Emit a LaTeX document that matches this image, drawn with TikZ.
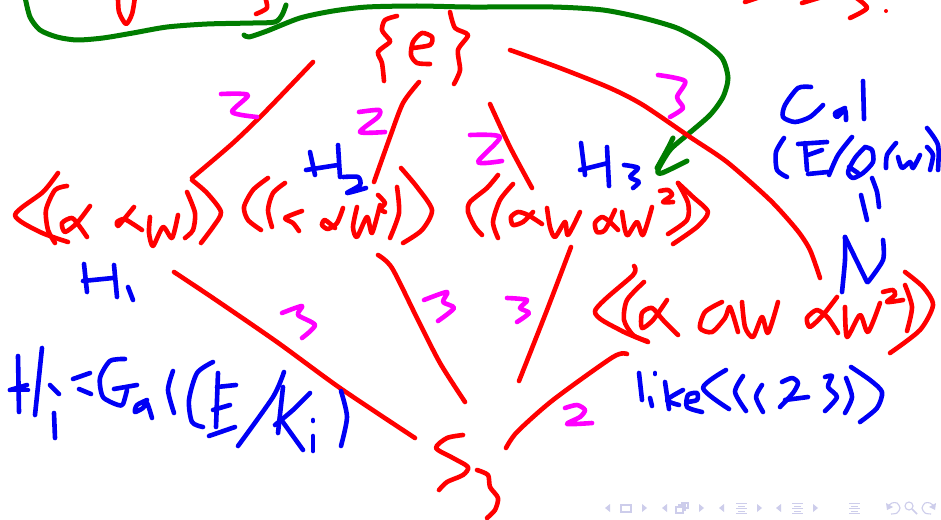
\documentclass[tikz,border=0pt]{standalone}
\definecolor{inkred}{RGB}{255,0,0}
\definecolor{inkblue}{RGB}{0,0,245}
\definecolor{inkgreen}{RGB}{0,125,0}
\definecolor{inkpink}{RGB}{255,0,255}
\definecolor{navcol}{RGB}{205,205,235}
\tikzset{
 ink/.style={line width=4.6pt,line cap=round,line join=round},
 R/.style={ink,draw=inkred},
 B/.style={ink,draw=inkblue},
 G/.style={ink,draw=inkgreen,line width=5pt},
 M/.style={ink,draw=inkpink},
 navf/.style={fill=navcol,draw=none},
 navl/.style={draw=navcol,line width=.9pt}
}
\newcommand{\ink}[2]{\draw[#1] plot[smooth,tension=.45] coordinates {#2};}
\newcommand{\navl}[1]{\fill[navf] (#1,508) -- (#1+5,504) -- (#1+5,512) -- cycle;}
\newcommand{\navr}[1]{\fill[navf] (#1+5,508) -- (#1,504) -- (#1,512) -- cycle;}
\newcommand{\navlines}[1]{\draw[navl] (#1,503)--(#1+11,503) (#1+2,506)--(#1+9,506) (#1,508.5)--(#1+11,508.5) (#1+2,511)--(#1+9,511) (#1,513.5)--(#1+11,513.5);}
\begin{document}
\begin{tikzpicture}[x=1pt,y=-1pt]
\useasboundingbox (0,0) rectangle (941,519);
\clip (0,0) rectangle (941,519);
\fill[white] (0,0) rectangle (941,519);
% top remnants
\ink{R}{(118,-3)(119,12)(126,24)(132,14)(135,-3)}
\ink{R}{(265,-3)(267,8)(256,14)}
\ink{R}{(745,2)(760,-3)}
\ink{R}{(802,3)(822,-3)}
\ink{R}{(855,-3)(867,8)(850,18)}
\fill[inkred] (886,11) circle (2);
% green
\ink{G}{(25,-3)(30,17)(40,30)(57,37)(77,40)(103,38)(133,33)(167,27)(207,24)(253,23)(275,22)(282,15)(286,5)}
\ink{G}{(244,35)(249,37)(267,31)(300,18)(333,11)(367,7)(417,6)(470,7)(553,7)(603,10)(643,18)(677,28)(703,42)(722,58)(728,78)(723,97)(710,115)(687,135)(670,150)(658,170)(662,173)(687,161)}
\ink{G}{(673,138)(667,150)(657,168)}
% {e}
\ink{R}{(397,16)(385,20)(382,30)(388,38)(390,42)(378,52)(382,63)(384,81)}
\ink{R}{(413,48)(430,45)(432,37)(422,33)(413,42)(411,55)(417,63)(430,64)}
\ink{R}{(450,12)(455,28)(468,35)(458,50)(460,70)(454,84)}
% lines
\ink{R}{(313,62)(267,110)(233,143)(192,178)}
\ink{R}{(419,82)(403,103)(390,137)(374,182)}
\ink{R}{(490,104)(510,147)(532,188)}
\ink{R}{(510,50)(560,68)(610,88)(643,105)(690,137)(727,162)(770,200)(797,230)(810,250)(820,278)}
\ink{R}{(174,272)(213,298)(277,342)(340,388)(415,438)}
\ink{R}{(378,255)(392,268)(417,318)(440,363)(465,402)}
\ink{R}{(571,247)(547,310)(519,381)}
\ink{R}{(627,354)(613,357)(553,400)(517,432)(506,448)}
% group 1
\ink{R}{(58,173)(43,192)(15,215)(40,232)(68,242)}
\ink{R}{(67,186)(55,190)(46,210)(48,230)(55,243)}
\ink{R}{(90,206)(77,223)(65,232)(62,223)(72,218)(80,227)(87,237)}
\ink{R}{(134,207)(125,218)(118,226)(117,222)(124,219)(133,224)(142,230)}
\ink{R}{(150,217)(149,233)(153,246)(163,227)(172,238)(178,215)}
\ink{R}{(187,192)(195,213)(193,230)(185,238)}
\ink{R}{(192,180)(207,193)(221,212)(213,227)(201,243)}
% group 2
\ink{R}{(268,178)(253,190)(244,207)(248,220)(261,230)}
\ink{R}{(285,183)(273,193)(268,210)(272,227)}
\ink{R}{(302,211)(285,218)(293,223)(299,231)}
\ink{R}{(343,208)(337,223)(328,229)(322,225)(325,220)(335,228)}
\ink{R}{(357,207)(353,227)(357,237)(367,217)(372,233)(380,205)}
\ink{R}{(378,195)(385,203)(380,209)(385,212)}
\ink{R}{(397,187)(399,213)(390,238)}
\ink{R}{(401,168)(417,187)(432,210)(422,230)(403,243)}
% group 3
\ink{R}{(498,175)(487,188)(470,202)(468,212)(475,227)(482,235)}
\ink{R}{(513,184)(500,200)(493,222)(498,238)}
\ink{R}{(533,212)(523,222)(513,225)(511,217)(518,212)(528,215)(542,224)}
\ink{R}{(547,208)(550,227)(555,237)(565,222)(568,235)(580,212)}
\ink{R}{(615,210)(605,230)(597,232)(595,223)(602,217)(610,222)(618,230)}
\ink{R}{(622,212)(625,230)(628,235)(637,222)(643,235)(652,207)}
\ink{R}{(660,191)(668,190)(672,195)(663,202)(673,202)}
\ink{R}{(678,183)(688,203)(687,220)(668,234)}
\ink{R}{(678,183)(693,197)(708,212)(697,227)(673,244)}
% group 4
\ink{R}{(634,266)(633,275)(595,311)(620,330)(648,342)}
\ink{R}{(644,282)(627,300)(624,320)(633,335)(647,341)}
\ink{R}{(667,300)(653,320)(642,328)(642,313)(652,308)(663,320)(678,335)}
\ink{R}{(722,302)(705,312)(700,328)(712,332)(725,318)(730,307)(738,332)}
\ink{R}{(742,302)(745,327)(753,337)(762,317)(768,333)(778,302)}
\ink{R}{(837,297)(823,315)(810,327)(807,318)(817,310)(828,318)(838,333)}
\ink{R}{(845,307)(847,337)(860,315)(868,332)(880,303)}
\ink{R}{(883,292)(893,290)(895,295)(887,302)(903,300)}
\ink{R}{(905,285)(912,307)(907,331)}
\ink{R}{(905,272)(923,287)(933,305)(920,330)(890,353)}
% S3
\ink{R}{(463,435)(447,438)(436,448)(453,458)(468,467)(463,475)(447,482)(439,490)}
\ink{R}{(477,470)(488,475)(490,487)(498,498)(495,510)(487,518)}
% magenta
\ink{M}{(221,94)(248,95)(232,112)(257,117)}
\ink{M}{(359,112)(379,110)(378,117)(360,132)(385,132)}
\ink{M}{(470,135)(500,137)(478,162)(502,161)}
\ink{M}{(658,75)(685,81)(677,97)(683,108)(670,117)}
\ink{M}{(282,313)(302,306)(298,315)(315,325)(302,338)}
\ink{M}{(424,300)(447,292)(443,302)(454,308)(438,321)}
\ink{M}{(507,298)(527,300)(520,308)(529,313)(517,322)}
\ink{M}{(565,408)(577,405)(585,410)(580,417)(567,424)(592,423)}
% H2
\ink{B}{(310,152)(315,175)}
\ink{B}{(306,170)(338,165)}
\ink{B}{(338,145)(340,177)}
\ink{B}{(343,177)(358,177)(360,185)(347,193)(366,188)}
% H3
\ink{B}{(581,143)(585,175)}
\ink{B}{(580,170)(608,163)}
\ink{B}{(607,147)(609,186)}
\ink{B}{(624,165)(638,168)(630,177)(639,182)(633,188)}
% H1
\ink{B}{(84,264)(87,292)}
\ink{B}{(83,281)(113,278)}
\ink{B}{(114,265)(117,297)}
\ink{B}{(128,287)(133,300)}
% Gal
\ink{B}{(811,87)(798,88)(785,105)(783,117)(795,122)(810,117)(823,105)}
\ink{B}{(845,108)(835,113)(837,117)(845,110)(846,120)}
\ink{B}{(863,81)(864,119)}
\ink{B}{(784,138)(776,152)(777,170)(787,177)}
\ink{B}{(798,144)(827,142)}
\ink{B}{(805,143)(807,170)}
\ink{B}{(808,155)(822,150)}
\ink{B}{(808,174)(828,172)}
\ink{B}{(852,137)(838,155)(829,175)}
\ink{B}{(865,147)(855,158)(848,172)(853,178)(863,173)(873,162)(872,150)(865,147)}
\ink{B}{(849,167)(858,173)}
\ink{B}{(896,143)(887,155)(886,168)}
\ink{B}{(898,157)(902,168)(910,162)(913,168)(920,155)}
\ink{B}{(927,128)(938,145)(938,170)}
\ink{B}{(927,147)(933,155)(930,170)}
\ink{B}{(872,178)(877,192)(879,207)}
\ink{B}{(861,195)(867,220)}
% N
\ink{B}{(845,237)(845,260)(842,292)}
\ink{B}{(845,237)(867,282)}
\ink{B}{(883,240)(883,260)(868,282)}
% like
\ink{B}{(639,373)(642,400)}
\ink{B}{(655,373)(655,374)}
\ink{B}{(650,398)(652,406)}
\ink{B}{(665,382)(669,409)}
\ink{B}{(683,390)(667,400)(679,405)}
\ink{B}{(687,402)(697,400)(697,393)(688,395)(687,407)(702,412)}
\ink{B}{(726,370)(703,388)(729,409)}
\ink{B}{(743,376)(735,392)(746,411)}
\ink{B}{(762,385)(756,397)(763,412)}
\ink{B}{(782,382)(792,378)(798,383)(793,393)(780,407)}
\ink{B}{(785,400)(808,397)}
\ink{B}{(825,377)(832,376)(828,387)(837,397)(825,411)}
\ink{B}{(846,378)(852,397)(845,413)}
\ink{B}{(851,367)(870,380)(882,392)(877,408)(860,422)}
% Hi = Gal(E/Ki)
\ink{B}{(18,356)(19,412)}
\ink{B}{(42,348)(35,415)}
\ink{B}{(10,390)(27,385)}
\ink{B}{(10,390)(28,390)}
\ink{B}{(50,385)(59,394)}
\ink{B}{(54,413)(55,438)}
\ink{B}{(73,379)(90,373)}
\ink{B}{(79,389)(91,394)}
\ink{B}{(125,359)(110,361)(100,378)(103,397)(118,405)(123,404)(127,390)}
\ink{B}{(114,389)(137,385)}
\ink{B}{(147,400)(137,405)(135,412)(143,408)(147,403)(152,418)}
\ink{B}{(173,371)(168,390)(174,413)}
\ink{B}{(213,362)(197,373)(189,400)(192,422)(203,427)}
\ink{B}{(218,373)(216,427)}
\ink{B}{(217,387)(236,385)}
\ink{B}{(213,410)(230,405)}
\ink{B}{(209,436)(235,427)}
\ink{B}{(284,372)(273,397)(238,446)}
\ink{B}{(283,387)(278,433)}
\ink{B}{(310,393)(293,410)(275,425)}
\ink{B}{(280,418)(303,450)}
\ink{B}{(313,420)(313,421)}
\ink{B}{(313,436)(313,451)}
\ink{B}{(341,391)(347,417)(341,446)}
% navigation symbols
\navl{605}
\draw[navl,line width=1.1pt] (621,505) rectangle (631,512);
\navr{642}
\navl{662}
\draw[navl,fill=white,line width=1.1pt] (682,503) rectangle (688,508);
\draw[navl,fill=white,line width=1.1pt] (679,505) rectangle (685,510);
\draw[navl,fill=white,line width=1.1pt] (676,507) rectangle (683,513);
\navr{699}
\navl{719}
\navlines{736}
\navr{757}
\navl{776}
\navlines{792}
\navr{813}
\navlines{849}
\draw[navl,line width=1.1pt] plot[smooth] coordinates {(891,514)(897,513)(900,508)(897,503)(892,503)(888,506)};
\fill[navf] (886,503) -- (887,510) -- (893,507) -- cycle;
\draw[navl,line width=1.1pt] (909,506) circle (4);
\draw[navl,line width=1.5pt] (912,509) -- (917,514);
\draw[navl,line width=1.1pt] plot[smooth] coordinates {(931,514)(925,513)(922,508)(925,503)(930,503)(934,506)};
\fill[navf] (936,503) -- (935,510) -- (929,507) -- cycle;
\end{tikzpicture}
\end{document}
